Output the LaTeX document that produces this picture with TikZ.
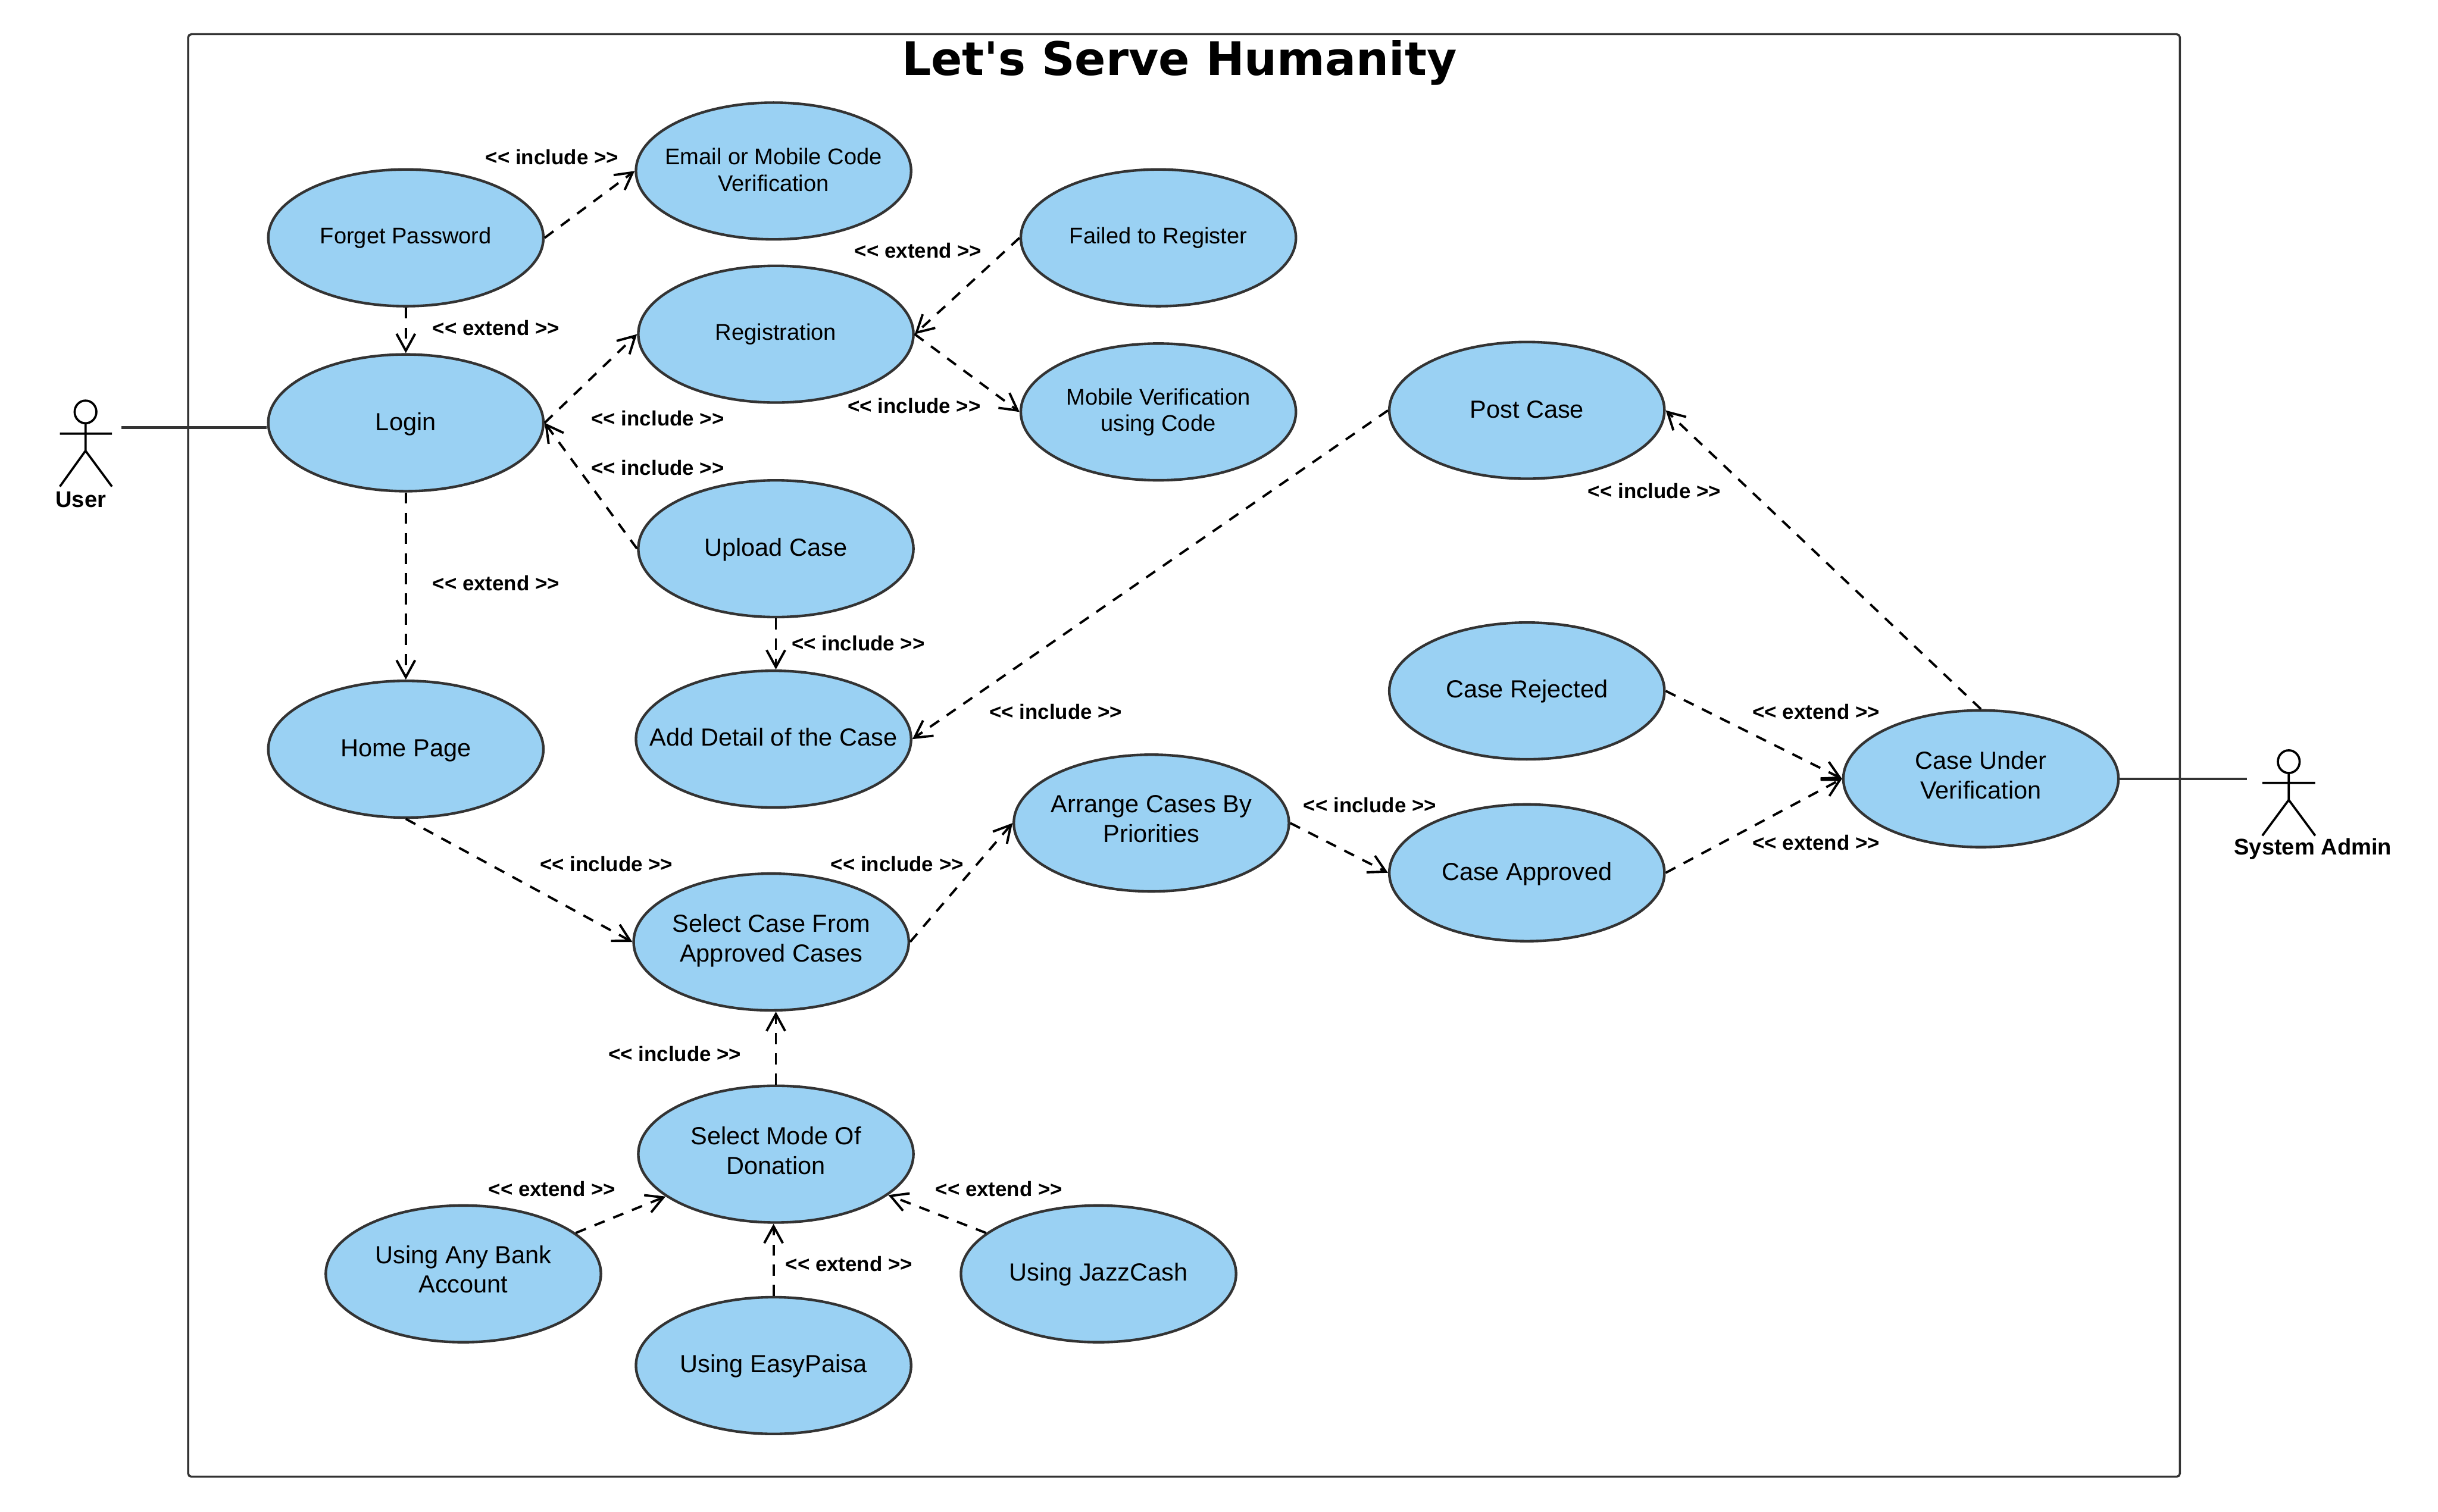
\documentclass[tikz,border=0pt]{standalone}
\usepackage{fontspec}
\setmainfont{Liberation Sans}
\newfontfamily\titlefont{DejaVu Sans}
\usetikzlibrary{shapes.geometric,arrows.meta}
\definecolor{ucfill}{HTML}{9AD1F3}
\definecolor{ucline}{HTML}{333333}
\newlength\ctunit
\setlength\ctunit{0.567pt}
\newcommand\casetext[2]{\raisebox{\dimexpr -3.4pt+#1\ctunit\relax}[0pt][0pt]{\makebox[0pt]{\begin{tabular}{@{}c@{}}#2\end{tabular}}}}
\tikzset{
  x=0.02cm,y=-0.02cm,
  usecase/.style={ellipse,draw=ucline,line width=0.95pt,fill=ucfill,minimum width=3.54cm,minimum height=1.76cm,inner sep=0pt,font=\fontsize{9.05}{10.8}\selectfont},
  smallcase/.style={usecase,font=\fontsize{8.3}{9.7}\selectfont},
  rel/.style={draw=black,line width=0.85pt,dash pattern=on 4pt off 3.4pt,-{Straight Barb[length=6.2pt,width=6.8pt]}},
  assoc/.style={draw=ucline,line width=0.95pt},
  tag/.style={font=\fontsize{7.6}{9}\selectfont\bfseries,inner sep=0pt},
  actorlabel/.style={font=\fontsize{8.3}{10}\selectfont\bfseries,inner sep=0pt},
  stick/.style={draw=black,line width=0.8pt},
}
\begin{document}
\begin{tikzpicture}
\useasboundingbox (0,0) rectangle (1568,972.4);
% system frame
\draw[ucline,line width=0.75pt,rounded corners=1.2pt] (121,22) rectangle (1402,950);
\node[inner sep=0pt] (title) at (758.5,40.5) {\resizebox*{7.14cm}{0.58cm}{\titlefont\bfseries Let's Serve Humanity}};
% use cases
\node[smallcase] (forget) at (261,153) {\casetext{2}{Forget Password}};
\node[smallcase] (email) at (497.5,110) {\casetext{1.5}{Email or Mobile Code\\Verification}};
\node[smallcase] (failed) at (745,153) {\casetext{2}{Failed to Register}};
\node[smallcase] (reg) at (499,215) {\casetext{2}{Registration}};
\node[smallcase] (mobile) at (745,265) {\casetext{2}{Mobile Verification\\using Code}};
\node[usecase] (login) at (261,272) {\casetext{1}{Login}};
\node[usecase] (upload) at (499,353) {\casetext{1}{Upload Case}};
\node[usecase] (post) at (982,264) {\casetext{1}{Post Case}};
\node[usecase] (detail) at (497.5,475.5) {\casetext{1.5}{Add Detail of the Case}};
\node[usecase] (home) at (261,482) {\casetext{1}{Home Page}};
\node[usecase] (rejected) at (982,444.5) {\casetext{1.5}{Case Rejected}};
\node[usecase] (under) at (1274,501) {\casetext{2.5}{Case Under\\Verification}};
\node[usecase] (arrange) at (740.5,529.5) {\casetext{3}{Arrange Cases By\\Priorities}};
\node[usecase] (approved) at (982,561.5) {\casetext{1}{Case Approved}};
\node[usecase] (select) at (496,606) {\casetext{2.5}{Select Case From\\Approved Cases}};
\node[usecase] (mode) at (499,742.5) {\casetext{2.5}{Select Mode Of\\Donation}};
\node[usecase] (bank) at (298,819.5) {\casetext{3}{Using Any Bank\\Account}};
\node[usecase] (jazz) at (706.5,819.5) {\casetext{1.5}{Using JazzCash}};
\node[usecase] (easy) at (497.5,878.5) {\casetext{1.5}{Using EasyPaisa}};
% dependencies
\draw[rel] (forget.east) -- (email.west);
\draw[rel] (forget.south) -- (login.north);
\draw[rel] (login.east) -- (reg.west);
\draw[rel] (upload.west) -- (login.east);
\draw[rel] (upload.south) -- (detail.north -| upload.south);
\draw[rel] (failed.west) -- (reg.east);
\draw[rel] (reg.east) -- (mobile.west);
\draw[rel] (login.south) -- (home.north);
\draw[rel] (post.west) -- (detail.east);
\draw[rel] (under.north) -- (post.east);
\draw[rel] (rejected.east) -- (under.west);
\draw[rel] (approved.east) -- (under.west);
\draw[rel] (home.south) -- (select.west);
\draw[rel] (select.east) -- (arrange.west);
\draw[rel] (arrange.east) -- (approved.west);
\draw[rel] (mode.north) -- (select.south -| mode.north);
\draw[rel] (bank.20.7) -- (mode.201);
\draw[rel] (jazz.160) -- (mode.-20);
\draw[rel] (easy.north) -- (mode.south -| easy.north);
% actors
\coordinate (userend) at (78,275);
\coordinate (adminend) at (1445,501);
\draw[assoc] (userend) -- (login.west |- userend);
\draw[assoc] (under.east) -- (adminend);
\draw[stick] (55,265) ellipse (7 and 7.3);
\draw[stick] (55,272.3) -- (55,290) -- (38.5,313) (55,290) -- (72,313) (38.5,279) -- (72,279);
\node[actorlabel] (userlabel) at (52,321.5) {User};
\draw[stick] (1472,490) ellipse (7 and 7.3);
\draw[stick] (1472,497.3) -- (1472,514.6) -- (1455,537.6) (1472,514.6) -- (1489,537.6) (1455,503.7) -- (1489,503.7);
\node[actorlabel] (adminlabel) at (1487.5,546) {System Admin};
% stereotype tags
\node[tag] (t1) at (355,101) {<{}< include >{}>};
\node[tag] (t2) at (590.5,161) {<{}< extend >{}>};
\node[tag] (t3) at (319,211) {<{}< extend >{}>};
\node[tag] (t4) at (588,261) {<{}< include >{}>};
\node[tag] (t5) at (423,269) {<{}< include >{}>};
\node[tag] (t6) at (423,301) {<{}< include >{}>};
\node[tag] (t7) at (1064,316) {<{}< include >{}>};
\node[tag] (t8) at (319,375) {<{}< extend >{}>};
\node[tag] (t9) at (552,414) {<{}< include >{}>};
\node[tag] (t10) at (679,458) {<{}< include >{}>};
\node[tag] (t11) at (1168,458) {<{}< extend >{}>};
\node[tag] (t12) at (881,518) {<{}< include >{}>};
\node[tag] (t13) at (1168,542) {<{}< extend >{}>};
\node[tag] (t14) at (390,556) {<{}< include >{}>};
\node[tag] (t15) at (577,556) {<{}< include >{}>};
\node[tag] (t16) at (434,678) {<{}< include >{}>};
\node[tag] (t17) at (355,765) {<{}< extend >{}>};
\node[tag] (t18) at (642.5,765) {<{}< extend >{}>};
\node[tag] (t19) at (546,813) {<{}< extend >{}>};
\end{tikzpicture}
\end{document}
